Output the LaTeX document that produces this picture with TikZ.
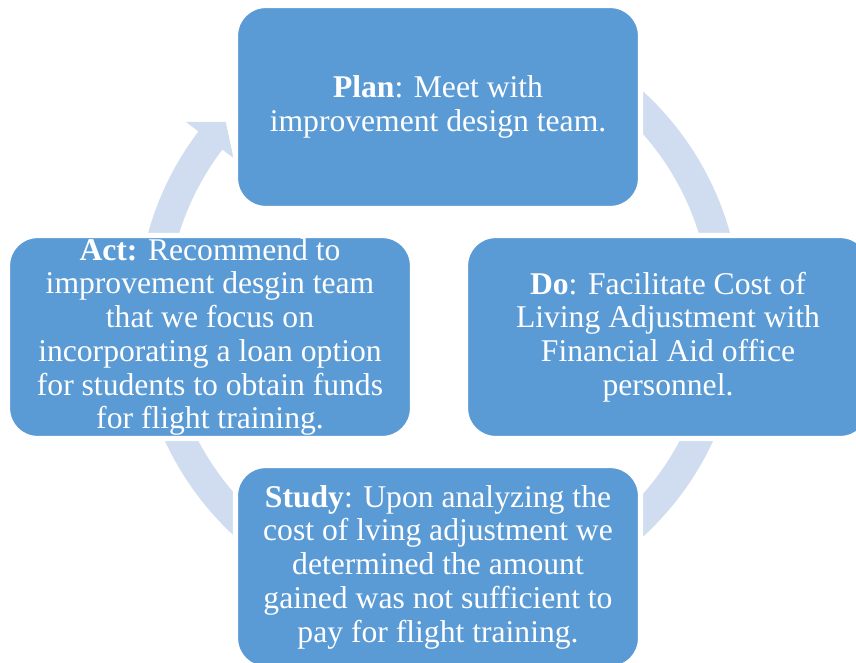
\documentclass[tikz,border=0pt]{standalone}
\usepackage{fontspec}
\setmainfont{Liberation Serif}
\usepackage[HTML]{xcolor}
\definecolor{phaseblue}{HTML}{5B9BD5}
\definecolor{ringblue}{HTML}{D0DCEF}

\begin{document}
\begin{tikzpicture}[
  phase/.style={rectangle, rounded corners=0.6cm, fill=phaseblue, draw=white,
    line width=3pt, minimum width=8.1cm, minimum height=4.06cm, inner sep=1pt,
    text=white, align=center, font=\fontsize{18}{19.2}\selectfont}]
\useasboundingbox (0,0) rectangle (17.12,13.24);
\clip (0,0) rectangle (17.12,13.24);
% PDSA ring with its arrow head, behind the boxes
\coordinate (hub) at (8.78,6.96);
\begin{scope}[shift={(hub)}]
\fill[ringblue] (90:6.04) arc[start angle=90, end angle=-217.2, radius=6.04]
  -- (142.8:6.36) -- (138:5.74) -- (142.8:5.16) -- (142.8:5.44)
  arc[start angle=-217.2, end angle=90, radius=5.44] -- cycle;
\end{scope}
% the four phases
\node[phase] (plan) at (8.76,11.1) {\textbf{Plan}: Meet with\\improvement design team.};
\node[phase] (do) at (13.36,6.5) {\textbf{Do}: Facilitate Cost of\\Living Adjustment with\\Financial Aid office\\personnel.};
\node[phase] (study) at (8.76,1.9) {\textbf{Study}: Upon analyzing the\\cost of lving adjustment we\\determined the amount\\gained was not sufficient to\\pay for flight training.};
\node[phase] (act) at (4.2,6.5) {\textbf{Act:} Recommend to\\improvement desgin team\\that we focus on\\incorporating a loan option\\for students to obtain funds\\for flight training.};
\end{tikzpicture}
\end{document}
